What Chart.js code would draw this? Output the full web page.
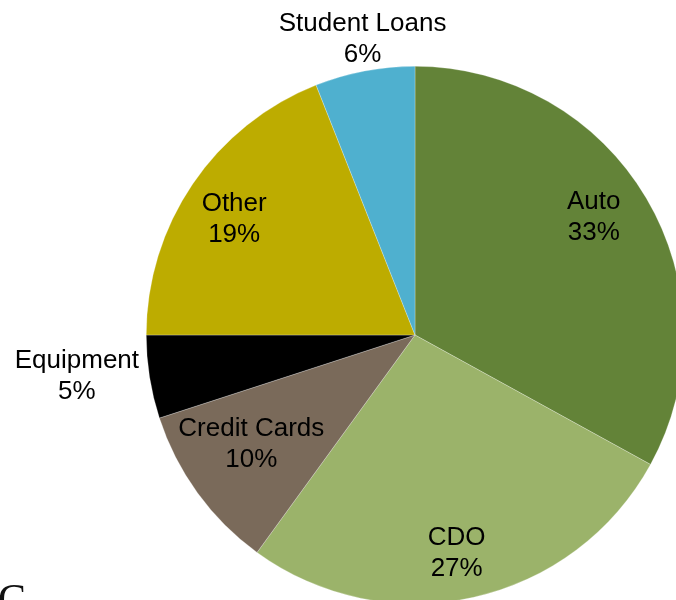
<!DOCTYPE html>
<html>
<head>
<meta charset="utf-8">
<script src="https://cdn.jsdelivr.net/npm/chart.js@4/dist/chart.umd.min.js"></script>
<style>
  html, body { margin: 0; padding: 0; background: #fff; overflow: hidden; width: 676px; height: 600px; }
  #wrap { position: relative; width: 676px; height: 600px; overflow: hidden; }
  #pie { position: absolute; left: 0; top: 0; }
  #capC { position: absolute; left: -2px; top: 578px; font: 42px/42px "Liberation Serif", serif; color: #111; }
</style>
</head>
<body>
<div id="wrap">
  <canvas id="pie" width="830" height="670"></canvas>
  <div id="capC">C</div>
</div>
<script>
const sectors = ["Auto", "CDO", "Credit Cards", "Equipment", "Other", "Student Loans"];
const shares = [33, 27, 10, 5, 19, 6];
const sectorColors = ["#638338", "#9BB36A", "#7A6A5A", "#000000", "#BDAC00", "#4FB0CF"];

// label placement: fraction of the radius along the slice's middle angle, plus a small nudge
const labelRadius = [0.79, 0.83, 0.73, 1.27, 0.80, 1.12];
const labelNudge = [[-4, -10], [-7, 1], [-5, -6], [-1, -12], [-3, 5], [4, 0]];

const sliceLabels = {
  id: "sliceLabels",
  afterDatasetsDraw(chart) {
    const ctx = chart.ctx;
    const meta = chart.getDatasetMeta(0);
    ctx.save();
    ctx.font = "26px 'Liberation Sans', Arial, sans-serif";
    ctx.fillStyle = "#000";
    ctx.textAlign = "center";
    ctx.textBaseline = "middle";
    meta.data.forEach((arc, i) => {
      const p = arc.getProps(["x", "y", "startAngle", "endAngle", "outerRadius"], true);
      const mid = (p.startAngle + p.endAngle) / 2;
      const r = p.outerRadius * labelRadius[i];
      const x = p.x + Math.cos(mid) * r + labelNudge[i][0];
      const y = p.y + Math.sin(mid) * r + labelNudge[i][1];
      ctx.fillText(sectors[i], x, y - 15.5);
      ctx.fillText(shares[i] + "%", x, y + 15.5);
    });
    ctx.restore();
  }
};

new Chart(document.getElementById("pie"), {
  type: "pie",
  data: {
    labels: sectors,
    datasets: [{
      data: shares,
      backgroundColor: sectorColors,
      borderColor: "rgba(255,255,255,0.5)",
      borderWidth: 0.5
    }]
  },
  options: {
    responsive: false,
    animation: false,
    layout: { padding: 66 },
    plugins: {
      legend: { display: false },
      tooltip: { enabled: false }
    }
  },
  plugins: [sliceLabels]
});
</script>
</body>
</html>
